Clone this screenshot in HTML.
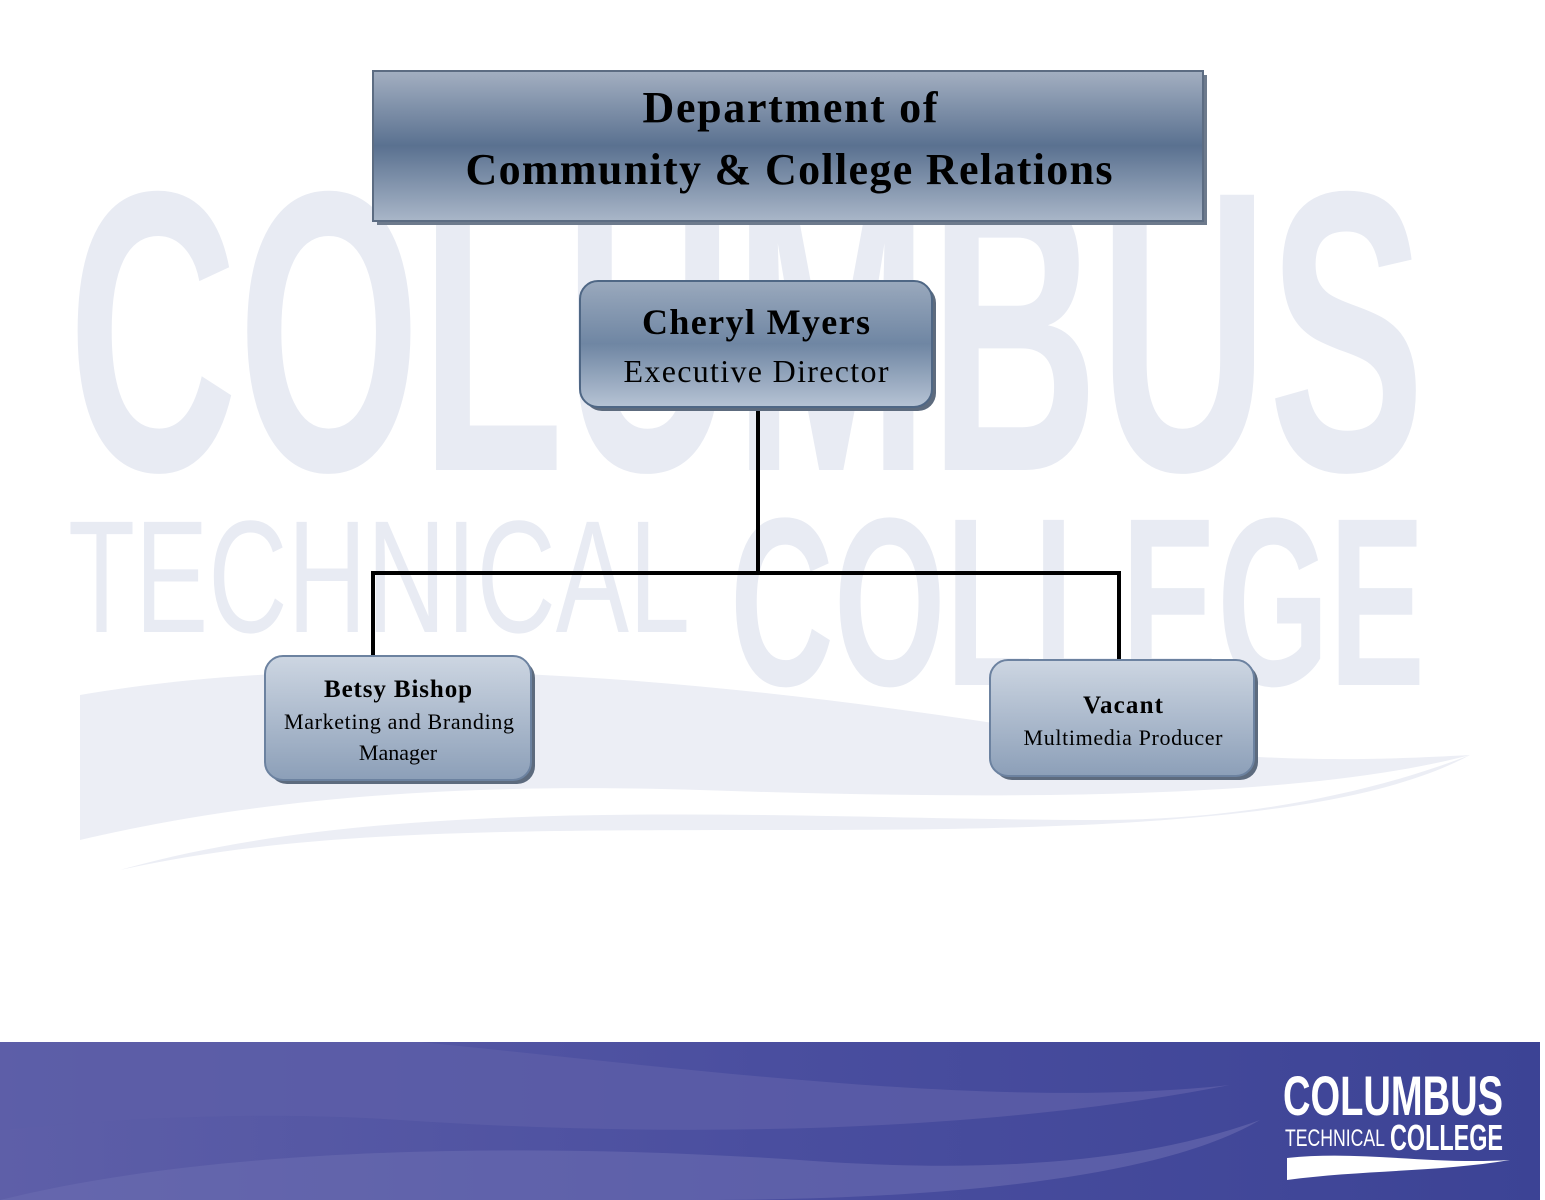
<!DOCTYPE html>
<html><head><meta charset="utf-8"><style>
body{margin:0;background:#fff;}
svg{display:block;}
</style></head><body>
<svg width="1545" height="1200" viewBox="0 0 1545 1200" xmlns="http://www.w3.org/2000/svg">
<defs>
<linearGradient id="hdr" x1="0" y1="0" x2="0" y2="1">
<stop offset="0" stop-color="#a3afc1"/><stop offset="0.5" stop-color="#5a7190"/><stop offset="1" stop-color="#a9b6c8"/></linearGradient>
<linearGradient id="cm" x1="0" y1="0" x2="0" y2="1">
<stop offset="0" stop-color="#9aa9bd"/><stop offset="0.5" stop-color="#6f86a3"/><stop offset="1" stop-color="#b6c3d4"/></linearGradient>
<linearGradient id="sb" x1="0" y1="0" x2="0" y2="1">
<stop offset="0" stop-color="#cdd6e2"/><stop offset="1" stop-color="#8c9fb8"/></linearGradient>
<linearGradient id="band" x1="0" y1="0" x2="1" y2="0">
<stop offset="0" stop-color="#5e5fa8"/><stop offset="0.5" stop-color="#4a4e9f"/><stop offset="1" stop-color="#3c4395"/></linearGradient>
</defs>
<g fill="#e8ebf3" font-family="Liberation Sans Narrow, Liberation Sans, sans-serif" font-weight="bold">
<text x="68" y="470" font-size="400" textLength="1357" lengthAdjust="spacingAndGlyphs">COLUMBUS</text>
<text x="68" y="632" font-size="160" font-weight="normal" textLength="622" lengthAdjust="spacingAndGlyphs">TECHNICAL</text>
<text x="730" y="685" font-size="240" textLength="695" lengthAdjust="spacingAndGlyphs">COLLEGE</text>
</g>
<path d="M80 695 C400 640 800 690 1100 740 C1250 765 1380 760 1470 755 C1300 800 1000 800 700 790 C450 782 250 800 80 840 Z" fill="#eceef5"/>
<path d="M120 870 C400 790 800 820 1100 820 C1250 820 1380 790 1470 755 C1350 820 1100 830 800 830 C500 830 300 830 120 870 Z" fill="#eceef5"/>
<rect x="377" y="75" width="830" height="150" fill="#6d7a8c"/>
<rect x="373" y="71" width="830" height="150" fill="url(#hdr)" stroke="#5c6c82" stroke-width="2"/>
<g font-family="Liberation Serif, serif" font-weight="bold" text-anchor="middle" fill="#000">
<text x="790" y="122" font-size="44" textLength="295" lengthAdjust="spacing">Department of</text>
<text x="789" y="184" font-size="44" textLength="647" lengthAdjust="spacing">Community &amp; College Relations</text>
</g>
<g stroke="#000" stroke-width="4" fill="none">
<path d="M758 405 V572"/><path d="M373 658 V573 H1119 V662"/>
</g>
<rect x="584" y="285" width="352" height="126" rx="18" fill="#5d6b7e"/>
<rect x="580" y="281" width="352" height="126" rx="18" fill="url(#cm)" stroke="#4f6785" stroke-width="2"/>
<g font-family="Liberation Serif, serif" text-anchor="middle" fill="#000">
<text x="756" y="334" font-size="36" font-weight="bold" textLength="228" lengthAdjust="spacing">Cheryl Myers</text>
<text x="756" y="382" font-size="32" textLength="265" lengthAdjust="spacing">Executive Director</text>
</g>
<rect x="269" y="660" width="266" height="124" rx="18" fill="#5d6b7e"/>
<rect x="265" y="656" width="266" height="124" rx="18" fill="url(#sb)" stroke="#6c82a0" stroke-width="2"/>
<g font-family="Liberation Serif, serif" text-anchor="middle" fill="#000">
<text x="398" y="697" font-size="25" font-weight="bold" textLength="148" lengthAdjust="spacing">Betsy Bishop</text>
<text x="399" y="729" font-size="22" textLength="230" lengthAdjust="spacing">Marketing and Branding</text>
<text x="398" y="760" font-size="22">Manager</text>
</g>
<rect x="994" y="664" width="264" height="116" rx="18" fill="#5d6b7e"/>
<rect x="990" y="660" width="264" height="116" rx="18" fill="url(#sb)" stroke="#6c82a0" stroke-width="2"/>
<g font-family="Liberation Serif, serif" text-anchor="middle" fill="#000">
<text x="1123" y="713" font-size="25" font-weight="bold" textLength="80" lengthAdjust="spacing">Vacant</text>
<text x="1123" y="745" font-size="22" textLength="199" lengthAdjust="spacing">Multimedia Producer</text>
</g>
<rect x="0" y="1042" width="1540" height="158" fill="url(#band)"/>
<path d="M0 1042 H420 C700 1070 1000 1110 1230 1085 C1000 1130 700 1140 400 1120 C250 1110 100 1120 0 1130 Z" fill="#5d5ea8" opacity="0.8"/>
<path d="M0 1200 C200 1150 500 1140 800 1160 C1000 1175 1150 1160 1260 1120 C1150 1185 900 1200 700 1200 Z" fill="#6a6cb0" opacity="0.6"/>
<g fill="#fff" font-family="Liberation Sans Narrow, Liberation Sans, sans-serif" font-weight="bold">
<text x="1283" y="1115" font-size="56" textLength="220" lengthAdjust="spacingAndGlyphs">COLUMBUS</text>
<text x="1285" y="1146" font-size="24" font-weight="normal" textLength="100" lengthAdjust="spacingAndGlyphs">TECHNICAL</text>
<text x="1390" y="1150" font-size="36" textLength="113" lengthAdjust="spacingAndGlyphs">COLLEGE</text>
</g>
<path d="M1287 1158 C1360 1150 1430 1165 1510 1160 C1440 1172 1360 1170 1287 1180 Z" fill="#fff"/>
</svg>
</body></html>
